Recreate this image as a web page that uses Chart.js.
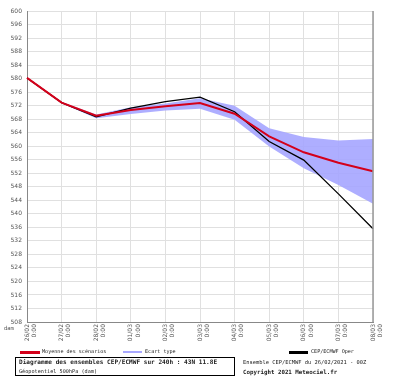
<!DOCTYPE html>
<html><head><meta charset="utf-8">
<script src="https://cdn.jsdelivr.net/npm/chart.js@4"></script>
<style>
html,body{margin:0;padding:0;background:#fff;}
#wrap{position:relative;width:400px;height:378px;overflow:hidden;}
canvas{position:absolute;left:0;top:0;}
.t{position:absolute;font-family:"DejaVu Sans Mono",monospace;color:#222;white-space:nowrap;line-height:1;}
.ln{position:absolute;height:3px;}
#box{position:absolute;left:15px;top:357px;width:220px;height:19px;border:1px solid #000;box-sizing:border-box;}
</style></head><body>
<div id="wrap">
<canvas id="c" width="400" height="378"></canvas>
<div class="t" style="left:4px;top:326px;font-size:5.5px;color:#555;">dam</div>
<div class="ln" style="left:20px;top:351px;width:20px;background:#d4001a;"></div>
<div class="t" style="left:42px;top:349px;font-size:5.1px;">Moyenne des scénarios</div>
<div class="ln" style="left:123px;top:351px;width:19px;height:2px;background:#a8a8ff;"></div>
<div class="t" style="left:145px;top:349px;font-size:5.1px;">Ecart type</div>
<div class="ln" style="left:289px;top:351px;width:19px;background:#000;"></div>
<div class="t" style="left:311px;top:349px;font-size:5.1px;">CEP/ECMWF Oper</div>
<div id="box"></div>
<div class="t" style="left:19px;top:359px;font-size:6.1px;font-weight:bold;">Diagramme des ensembles CEP/ECMWF sur 240h : 43N 11.8E</div>
<div class="t" style="left:19px;top:369px;font-size:5.2px;">Géopotentiel 500hPa (dam)</div>
<div class="t" style="left:243px;top:360px;font-size:5.4px;">Ensemble CEP/ECMWF du 26/02/2021 - 00Z</div>
<div class="t" style="left:243px;top:370px;font-size:5.8px;font-weight:bold;">Copyright 2021 Meteociel.fr</div>
</div>
<script>
const dates = ["26/02","27/02","28/02","01/03","02/03","03/03","04/03","05/03","06/03","07/03","08/03"];
const hours = ["0:00","0:00","0:00","0:00","0:00","0:00","0:00","0:00","0:00","0:00","0:00"];
const meanValues = [580.2, 572.9, 569.0, 570.7, 571.8, 572.8, 569.6, 562.9, 558.2, 555.1, 552.6];
const operValues = [580.2, 572.9, 568.7, 571.3, 573.2, 574.5, 570.2, 561.4, 555.9, 545.9, 535.6];
const upperValues = [580.3, 573.1, 569.4, 571.5, 572.6, 574.2, 572.0, 565.3, 562.7, 561.7, 562.1];
const lowerValues = [580.1, 572.7, 568.3, 569.5, 570.6, 571.1, 567.8, 559.9, 553.5, 548.5, 543.0];
const yTicks = [];
for (let v = 508; v <= 600; v += 4) yTicks.push(v);

const labels = dates.map((d, i) => [d, hours[i]]);

new Chart(document.getElementById('c'), {
  type: 'line',
  data: {
    labels: labels,
    datasets: [
      {label:'upper', data: upperValues, borderWidth:0, pointRadius:0, backgroundColor:'rgba(165,165,255,0.9)', fill:'+1', order:3, tension:0},
      {label:'lower', data: lowerValues, borderWidth:0, pointRadius:0, backgroundColor:'rgba(165,165,255,0.9)', fill:false, order:3, tension:0},
      {label:'oper', data: operValues, borderColor:'#000', borderWidth:1.3, pointRadius:0, fill:false, order:2, tension:0},
      {label:'mean', data: meanValues, borderColor:'#d4001a', borderWidth:2, pointRadius:0, fill:false, order:1, tension:0}
    ]
  },
  options: {
    responsive:false, animation:false,
    layout:{padding:{top:11, right:27, left:0, bottom:0}},
    plugins:{legend:{display:false}, tooltip:{enabled:false}},
    scales:{
      x:{
        offset:false,
        grid:{color:'#e0e0e0', lineWidth:1, drawTicks:false},
        border:{color:'#888', width:1},
        ticks:{autoSkip:false, maxRotation:90, minRotation:90, padding:2, font:{family:'DejaVu Sans', size:6}, color:'#555'},
        afterFit:(s)=>{ s.height = 56; }
      },
      y:{
        min:508, max:600,
        afterBuildTicks:(s)=>{ s.ticks = yTicks.map(v=>({value:v})); },
        grid:{color:'#e0e0e0', lineWidth:1, drawTicks:false},
        border:{color:'#888', width:1},
        ticks:{padding:5, font:{family:'DejaVu Sans', size:6}, color:'#555'},
        afterFit:(s)=>{ s.width = 27; }
      }
    }
  },
  plugins:[{
    id:'rightBorder',
    afterDraw(chart){
      const {ctx, chartArea:a} = chart;
      ctx.save();
      ctx.strokeStyle='#999'; ctx.lineWidth=1.5;
      ctx.beginPath(); ctx.moveTo(a.right, a.top); ctx.lineTo(a.right, a.bottom); ctx.stroke();
      ctx.restore();
    }
  }]
});
</script>
</body></html>
